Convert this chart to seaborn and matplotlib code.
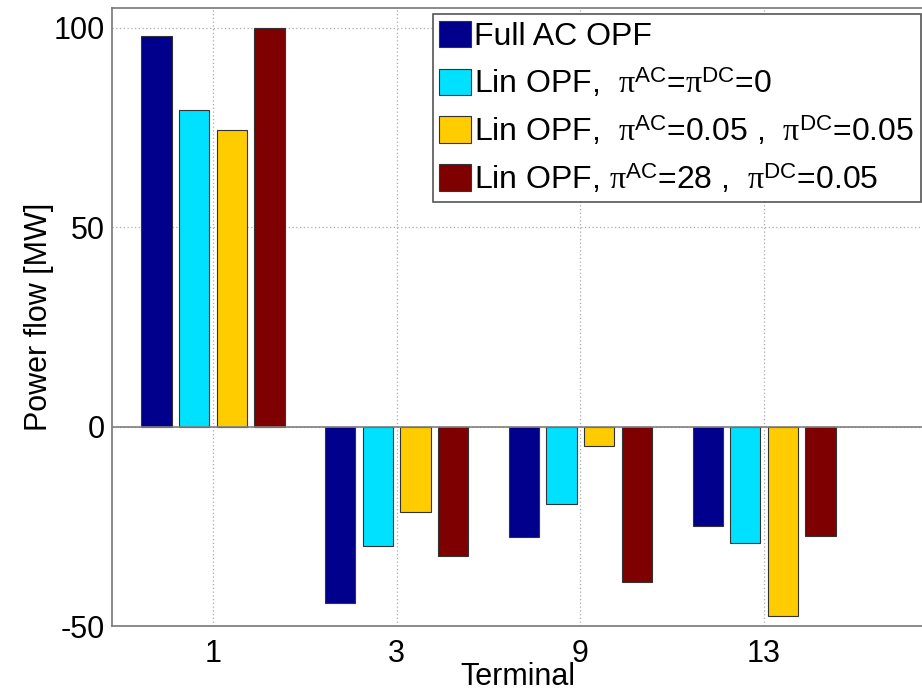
import matplotlib
matplotlib.use("Agg")
import matplotlib.pyplot as plt
import seaborn as sns
import pandas as pd

terminals = ["1", "3", "9", "13"]
series = [
    r"Full AC OPF",
    r"Lin OPF,  $\pi^{\mathsf{AC}}$=$\pi^{\mathsf{DC}}$=0",
    r"Lin OPF,  $\pi^{\mathsf{AC}}$=0.05 ,  $\pi^{\mathsf{DC}}$=0.05",
    r"Lin OPF, $\pi^{\mathsf{AC}}$=28 ,  $\pi^{\mathsf{DC}}$=0.05",
]
full_ac = [98.0, -44.3, -27.8, -25.0]
lin_zero = [79.3, -30.0, -19.3, -29.3]
lin_005 = [74.3, -21.3, -4.8, -47.5]
lin_28 = [100.0, -32.5, -39.0, -27.5]
colors = ["#00008C", "#00E1FF", "#FFCC00", "#7F0000"]

rows = []
for s, vals in zip(series, [full_ac, lin_zero, lin_005, lin_28]):
    for t, v in zip(terminals, vals):
        rows.append({"Terminal": t, "Series": s, "Power": v})
df = pd.DataFrame(rows)

sns.set_style("white")
plt.rcParams["font.family"] = ["Liberation Sans", "DejaVu Sans"]
plt.rcParams["mathtext.fontset"] = "custom"
plt.rcParams["mathtext.rm"] = "Liberation Serif"
plt.rcParams["mathtext.it"] = "Liberation Serif"
plt.rcParams["mathtext.sf"] = "Liberation Sans"
plt.rcParams["mathtext.default"] = "rm"
plt.rcParams["axes.unicode_minus"] = False
plt.rcParams["text.color"] = "black"
plt.rcParams["axes.labelcolor"] = "black"

fig = plt.figure(figsize=(9.22, 6.91), dpi=100)
ax = fig.add_axes([112 / 922, 1 - 626 / 691, 1.0 - 112 / 922 + 0.002, (626 - 8) / 691])

sns.barplot(data=df, x="Terminal", y="Power", hue="Series", order=terminals,
            hue_order=series, palette=colors, width=0.82, gap=0.2,
            edgecolor="#333333", linewidth=0.8, ax=ax, errorbar=None, saturation=1)

ax.set_xlim(-0.55, 3.87)
ax.set_ylim(-50, 105)
ax.set_yticks([-50, 0, 50, 100])
ax.axhline(0, color="#7f7f7f", lw=1.2, zorder=3)
ax.grid(True, linestyle=(0, (1, 2)), color="#aaaaaa", lw=0.9)
ax.set_axisbelow(True)
ax.tick_params(axis="both", direction="in", length=6, labelsize=22, color="#555555",
               labelcolor="black")
ax.tick_params(axis="x", pad=9)
ax.tick_params(axis="y", pad=5)
for sp in ax.spines.values():
    sp.set_color("#777777")
    sp.set_linewidth(1.2)
ax.set_xlabel("Terminal", fontsize=22, labelpad=-5, color="black")
ax.set_ylabel("Power flow [MW]", fontsize=22, labelpad=0, color="black")

leg = ax.legend(loc="upper right", fontsize=23, frameon=True, fancybox=False,
                edgecolor="#555555", framealpha=1, handlelength=1.0, handleheight=0.9,
                handletextpad=0.1, labelspacing=0.44, borderpad=0.2,
                borderaxespad=0.0, bbox_to_anchor=(0.996, 0.99))
leg.get_frame().set_linewidth(1.2)

fig.savefig("out.png", dpi=100)
